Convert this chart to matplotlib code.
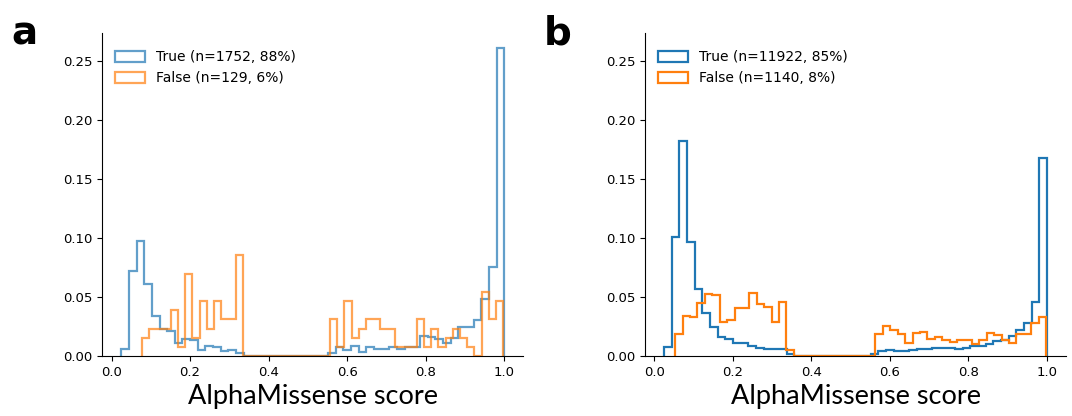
import numpy as np
import matplotlib
matplotlib.use("Agg")
import matplotlib.pyplot as plt

# ---- data (fraction of variants per bin, 50 bins between lo and hi) ----
a_true_range = (0.0246, 1.0)
a_true = [0.0057, 0.072, 0.0975, 0.061, 0.034, 0.023, 0.0215, 0.0113, 0.0144, 0.0136,
          0.0051, 0.0085, 0.0074, 0.0045, 0.005, 0.0023,
          0, 0, 0, 0, 0, 0, 0, 0, 0, 0, 0,
          0.0023, 0.0074, 0.0051, 0.0085, 0.0031, 0.0074, 0.0057, 0.0059, 0.0079, 0.0057,
          0.0079, 0.0079, 0.0172, 0.0158, 0.0144, 0.0113, 0.015, 0.0249, 0.0243, 0.0305,
          0.048, 0.0752, 0.261]

a_false_range = (0.077, 0.998)
a_false_n = 129
a_false_counts = [2, 3, 3, 3, 5, 1, 9, 2, 6, 3, 6, 4, 4, 11,
                  0, 0, 0, 0, 0, 0, 0, 0, 0, 0, 0, 0,
                  4, 1, 6, 2, 3, 4, 4, 3, 3, 1, 1, 1, 4, 1, 3, 1, 2, 3, 2, 1, 0, 7, 4, 6]

b_true_range = (0.0247, 1.0)
b_true = [0.0074, 0.1012, 0.1824, 0.097, 0.0565, 0.0368, 0.0243, 0.0164, 0.0141, 0.0113,
          0.0107, 0.0085, 0.0071, 0.0057, 0.0057, 0.0057, 0.0017,
          0, 0, 0, 0, 0, 0, 0, 0, 0, 0,
          0.0017, 0.0045, 0.0051, 0.0045, 0.0042, 0.0051, 0.0057, 0.0062, 0.0065, 0.0065,
          0.0065, 0.0059, 0.0065, 0.0085, 0.0088, 0.0102, 0.013, 0.0136, 0.017, 0.022,
          0.0283, 0.046, 0.168]

b_false_range = (0.0528, 0.998)
b_false = [0.0187, 0.0339, 0.0334, 0.0447, 0.0523, 0.0517, 0.0286, 0.0305, 0.0404, 0.0404,
           0.0532, 0.0441, 0.0418, 0.0286, 0.0455, 0.0051,
           0, 0, 0, 0, 0, 0, 0, 0, 0, 0, 0,
           0.0185, 0.0255, 0.022, 0.0187, 0.011, 0.0192, 0.0202, 0.0147, 0.016, 0.0133,
           0.0122, 0.0136, 0.0136, 0.0105, 0.0136, 0.0198, 0.0178, 0.0136, 0.0107, 0.0187,
           0.0187, 0.0277, 0.0334]

labels_a = ["True (n=1752, 88%)", "False (n=129, 6%)"]
labels_b = ["True (n=11922, 85%)", "False (n=1140, 8%)"]
xlabel = "AlphaMissense score"

# ---- figure ----
fig = plt.figure(figsize=(10.72, 4.16), dpi=100)
ax_a = fig.add_axes([0.0952, 0.1442, 0.393, 0.7764])
ax_b = fig.add_axes([0.6017, 0.1442, 0.3927, 0.7764])


def draw(ax, rng, vals, color, alpha, label):
    edges = np.linspace(rng[0], rng[1], len(vals) + 1)
    ax.hist(edges[:-1], bins=edges, weights=vals, histtype="step",
            color=color, alpha=alpha, linewidth=1.6, label=label)


draw(ax_a, a_true_range, a_true, "#1f77b4", 0.7, labels_a[0])
draw(ax_a, a_false_range, np.array(a_false_counts) / a_false_n, "#ff7f0e", 0.7, labels_a[1])
draw(ax_b, b_true_range, b_true, "#1f77b4", 1.0, labels_b[0])
draw(ax_b, b_false_range, b_false, "#ff7f0e", 1.0, labels_b[1])

for ax in (ax_a, ax_b):
    ax.set_ylim(0, 0.274)
    ax.set_xticks([0.0, 0.2, 0.4, 0.6, 0.8, 1.0])
    ax.set_yticks([0.0, 0.05, 0.10, 0.15, 0.20, 0.25])
    ax.spines["top"].set_visible(False)
    ax.spines["right"].set_visible(False)
    ax.tick_params(labelsize=9.5)
    ax.legend(loc="upper left", frameon=False, fontsize=10,
              bbox_to_anchor=(0.0, 0.985), handlelength=2.2, handleheight=0.8)
    ax.set_xlabel(xlabel, fontsize=19.5, family="Lato", labelpad=4)

fig.text(0.011, 0.965, "a", fontsize=28, fontweight="bold", va="top", ha="left")
fig.text(0.507, 0.965, "b", fontsize=28, fontweight="bold", va="top", ha="left")

fig.savefig("out.png", dpi=100)
